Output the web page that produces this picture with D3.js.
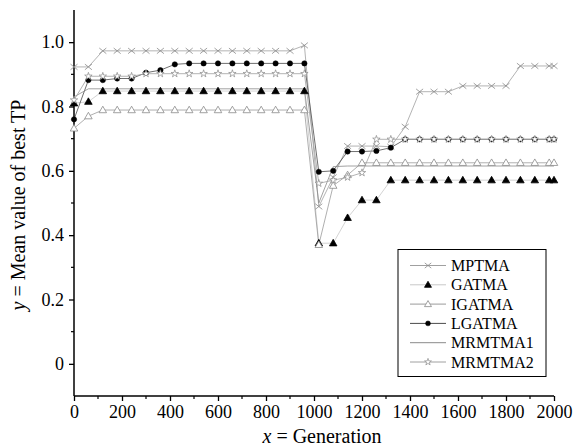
<!DOCTYPE html>
<html><head><meta charset="utf-8">
<script src="https://cdn.jsdelivr.net/npm/d3@7"></script>
<style>body{margin:0;background:#fff;} svg{display:block;}</style>
</head><body>
<svg id="c" width="575" height="447"></svg>
<script>
const generations = [0,60,120,180,240,300,360,420,480,540,600,660,720,780,840,900,960,1020,1080,1140,1200,1260,1320,1380,1440,1500,1560,1620,1680,1740,1800,1860,1920,1980,2000];
const MPTMA = [0.923,0.923,0.973,0.973,0.973,0.973,0.973,0.973,0.973,0.973,0.973,0.973,0.973,0.973,0.973,0.973,0.99,0.489,0.58,0.677,0.677,0.677,0.675,0.737,0.846,0.846,0.846,0.864,0.864,0.864,0.864,0.926,0.926,0.926,0.926];
const GATMA = [0.81,0.815,0.848,0.848,0.848,0.848,0.848,0.848,0.848,0.848,0.848,0.848,0.848,0.848,0.848,0.848,0.848,0.375,0.375,0.454,0.509,0.509,0.571,0.571,0.571,0.571,0.571,0.571,0.571,0.571,0.571,0.571,0.571,0.571,0.571];
const IGATMA = [0.732,0.77,0.789,0.789,0.789,0.789,0.789,0.789,0.789,0.789,0.789,0.789,0.789,0.789,0.789,0.789,0.789,0.37,0.554,0.587,0.625,0.625,0.625,0.625,0.625,0.625,0.625,0.625,0.625,0.625,0.625,0.625,0.625,0.625,0.625];
const LGATMA = [0.76,0.882,0.882,0.887,0.887,0.905,0.913,0.931,0.934,0.934,0.934,0.934,0.934,0.934,0.934,0.934,0.934,0.597,0.6,0.66,0.66,0.662,0.672,0.698,0.698,0.698,0.698,0.698,0.698,0.698,0.698,0.698,0.698,0.698,0.698];
const MRMTMA1 = [0.83,0.855,0.855,0.855,0.855,0.855,0.855,0.855,0.855,0.855,0.855,0.855,0.855,0.855,0.855,0.855,0.855,0.5,0.613,0.615,0.615,0.615,0.615,0.615,0.615,0.615,0.615,0.615,0.615,0.615,0.615,0.615,0.615,0.615,0.615];
const MRMTMA2 = [0.82,0.894,0.894,0.894,0.894,0.902,0.902,0.902,0.902,0.902,0.902,0.902,0.902,0.902,0.902,0.902,0.902,0.561,0.571,0.58,0.594,0.698,0.698,0.698,0.698,0.698,0.698,0.698,0.698,0.698,0.698,0.698,0.698,0.698,0.698];
const seriesNames = ["MPTMA","GATMA","IGATMA","LGATMA","MRMTMA1","MRMTMA2"];
const xTicks = [0,200,400,600,800,1000,1200,1400,1600,1800,2000];
const xMinorTicks = [100,300,500,700,900,1100,1300,1500,1700,1900];
const yTicks = [0,0.2,0.4,0.6,0.8,1.0];
const yTickLabels = ["0","0.2","0.4","0.6","0.8","1.0"];
const yMinorTicks = [0.1,0.3,0.5,0.7,0.9];

const values = {MPTMA,GATMA,IGATMA,LGATMA,MRMTMA1,MRMTMA2};
const style = {
  MPTMA:{line:"#a0a0a0", marker:"cross", mstroke:"#8a8a8a", mfill:"none"},
  GATMA:{line:"#c8c8c8", marker:"tri", mstroke:"#000", mfill:"#000"},
  IGATMA:{line:"#9a9a9a", marker:"tri", mstroke:"#8a8a8a", mfill:"#fff"},
  LGATMA:{line:"#4a4a4a", marker:"circle", mstroke:"#000", mfill:"#000"},
  MRMTMA1:{line:"#8a8a8a", marker:null},
  MRMTMA2:{line:"#a0a0a0", marker:"star", mstroke:"#8a8a8a", mfill:"#fff"}
};

const svg = d3.select("#c");
const font = "'Liberation Serif','Times New Roman',serif";
const x = d3.scaleLinear().domain([0,2000]).range([74,554]);
const y = d3.scaleLinear().domain([-0.1,1.1]).range([396,10]);

function drawMarker(g, type, cx, cy, st, s) {
  if (type === "cross") {
    const r = s*0.5;
    g.append("path").attr("d",`M${cx-r},${cy-r*0.8}L${cx+r},${cy+r*0.8}M${cx-r},${cy+r*0.8}L${cx+r},${cy-r*0.8}`)
      .attr("stroke",st.mstroke).attr("stroke-width",0.8).attr("fill","none");
  } else if (type === "tri") {
    g.append("path").attr("d",d3.symbol().type(d3.symbolTriangle).size(s*s*0.5)())
      .attr("transform",`translate(${cx},${cy+0.5})`).attr("fill",st.mfill).attr("stroke",st.mstroke).attr("stroke-width",0.8);
  } else if (type === "circle") {
    g.append("circle").attr("cx",cx).attr("cy",cy).attr("r",s*0.38).attr("fill",st.mfill).attr("stroke",st.mstroke).attr("stroke-width",0.5);
  } else if (type === "star") {
    g.append("path").attr("d",d3.symbol().type(d3.symbolStar).size(s*s*0.35)())
      .attr("transform",`translate(${cx},${cy})`).attr("fill",st.mfill).attr("stroke",st.mstroke).attr("stroke-width",0.7);
  }
}

// axes
const xAxis = d3.axisBottom(x).tickValues(xTicks).tickSize(5).tickFormat(d3.format("d"));
const gx = svg.append("g").attr("transform","translate(0,396)").call(xAxis);
gx.select(".domain").attr("stroke","#000").attr("stroke-width",1.5).attr("d",`M${x(0)},0H${x(2000)}`);
gx.selectAll(".tick line").attr("stroke","#000").attr("stroke-width",1.3);
gx.selectAll(".tick text").attr("font-family",font).attr("font-size",18).attr("fill","#000").attr("dy","0.8em");
gx.append("g").selectAll("line").data(xMinorTicks).join("line")
  .attr("x1",d=>x(d)).attr("x2",d=>x(d)).attr("y1",0).attr("y2",3).attr("stroke","#000").attr("stroke-width",1.2);

const yAxis = d3.axisLeft(y).tickValues(yTicks).tickSize(5).tickFormat((d,i)=>yTickLabels[i]);
const gy = svg.append("g").attr("transform","translate(74,0)").call(yAxis);
gy.select(".domain").attr("stroke","#000").attr("stroke-width",1.5).attr("d",`M0,${y(1.1)}V${y(-0.1)}`);
gy.selectAll(".tick line").attr("stroke","#000").attr("stroke-width",1.3);
gy.selectAll(".tick text").attr("font-family",font).attr("font-size",18).attr("fill","#000").attr("x",-10);
gy.append("g").selectAll("line").data(yMinorTicks).join("line")
  .attr("y1",d=>y(d)).attr("y2",d=>y(d)).attr("x1",0).attr("x2",-3).attr("stroke","#000").attr("stroke-width",1.2);

// labels
const yl = svg.append("text").attr("transform","translate(25,205) rotate(-90)").attr("text-anchor","middle")
  .attr("font-family",font).attr("font-size",20).attr("fill","#000");
yl.append("tspan").attr("font-style","italic").text("y");
yl.append("tspan").text(" = Mean value of best TP");
const xl = svg.append("text").attr("x",322).attr("y",443).attr("text-anchor","middle")
  .attr("font-family",font).attr("font-size",20).attr("fill","#000");
xl.append("tspan").attr("font-style","italic").text("x");
xl.append("tspan").text(" = Generation");

// series
const line = d3.line().x((d,i)=>x(generations[i])).y(d=>y(d));
const plot = svg.append("g");
seriesNames.forEach(name=>{
  const st = style[name];
  plot.append("path").datum(values[name]).attr("d",line).attr("fill","none")
    .attr("stroke",st.line).attr("stroke-width",0.8);
});
seriesNames.forEach(name=>{
  const st = style[name];
  if (!st.marker) return;
  const g = plot.append("g");
  values[name].forEach((v,i)=> drawMarker(g, st.marker, x(generations[i]), y(v), st, 7));
});

// legend
const lg = svg.append("g");
lg.append("rect").attr("x",398).attr("y",249.5).attr("width",148).attr("height",127)
  .attr("fill","#fff").attr("stroke","#000").attr("stroke-width",1);
seriesNames.forEach((name,i)=>{
  const st = style[name];
  const yy = 265.5 + i*19.3;
  lg.append("line").attr("x1",410).attr("x2",446).attr("y1",yy).attr("y2",yy).attr("stroke",st.line).attr("stroke-width",1);
  if (st.marker) drawMarker(lg, st.marker, 428, yy, st, 6.5);
  lg.append("text").attr("x",451).attr("y",yy).attr("dy","0.35em").attr("font-family",font).attr("font-size",16).attr("fill","#000").text(name);
});
</script>
</body></html>
